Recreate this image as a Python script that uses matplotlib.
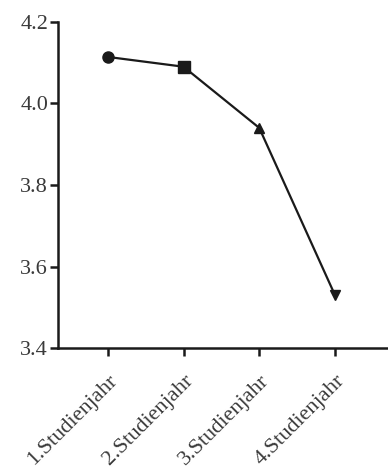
import matplotlib
matplotlib.use("Agg")
import matplotlib.pyplot as plt

plt.rcParams['font.family'] = ['Liberation Serif', 'DejaVu Serif']

years = ["1.Studienjahr", "2.Studienjahr", "3.Studienjahr", "4.Studienjahr"]
means = [4.114, 4.09, 3.94, 3.53]
markers = ["o", "s", "^", "v"]

fig = plt.figure(figsize=(3.88, 4.75), dpi=100)
ax = fig.add_axes([0.149, 0.267, 0.851, 0.687])

x = list(range(len(years)))
ax.plot(x, means, color="#1a1a1a", lw=1.6, zorder=2)
for xi, yi, m in zip(x, means, markers):
    ax.plot(xi, yi, marker=m, ms=8 if m in "os" else 7, color="#1a1a1a", zorder=3)

ax.set_xlim(-0.66, 3.70)
ax.set_ylim(3.4, 4.2)
ax.set_yticks([3.4, 3.6, 3.8, 4.0, 4.2])
ax.set_yticklabels(["3.4", "3.6", "3.8", "4.0", "4.2"])
ax.set_xticks(x)
ax.set_xticklabels(years, rotation=45, ha="right", rotation_mode="anchor")

for side in ("top", "right"):
    ax.spines[side].set_visible(False)
for side in ("left", "bottom"):
    ax.spines[side].set_linewidth(1.8)
    ax.spines[side].set_color("#1a1a1a")

ax.tick_params(axis="both", direction="out", length=6, width=1.8, colors="#1a1a1a",
               labelsize=16, labelcolor="#3a3a3a")
ax.tick_params(axis="y", pad=1)
ax.tick_params(axis="x", pad=11)

fig.savefig("out.png", dpi=100)
